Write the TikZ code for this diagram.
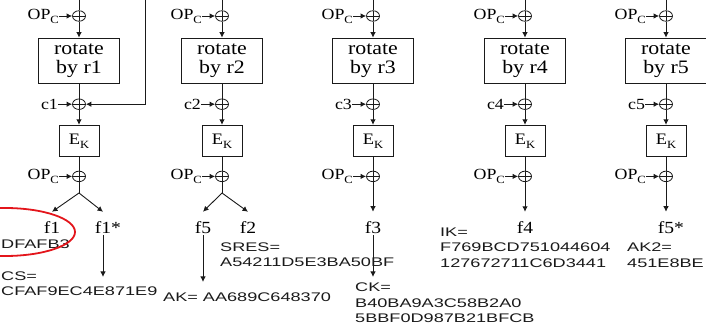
\documentclass[tikz,border=0pt]{standalone}
\usepackage{fontspec}
\usepackage{tikz}
\usetikzlibrary{arrows.meta,positioning,shapes.geometric}
\setmainfont{Liberation Serif}[FakeStretch=1.15]
\newfontfamily\hexfont{Liberation Sans}[FakeStretch=1.45]
\definecolor{markRed}{HTML}{E3151B}
\definecolor{inkGray}{HTML}{1A1A1A}
\newcommand{\lowsub}[1]{\raisebox{-0.55ex}{\fontsize{11}{11}\selectfont #1}}
\tikzset{
  xorop/.style={ellipse,draw=inkGray,line width=0.8pt,minimum width=13pt,minimum height=10.5pt,inner sep=0pt,
    path picture={\draw[inkGray,line width=0.8pt] (path picture bounding box.north) -- (path picture bounding box.south)
      (path picture bounding box.west) -- (path picture bounding box.east);}},
  rotblock/.style={rectangle,draw=inkGray,line width=0.9pt,minimum width=81pt,minimum height=45pt,inner sep=1pt,
    align=center,font={\fontsize{19}{19}\selectfont}},
  ekblock/.style={rectangle,draw=inkGray,line width=0.9pt,minimum width=40pt,minimum height=31pt,inner sep=1pt,
    font={\fontsize{16}{16}\selectfont}},
  oplabel/.style={inner sep=0pt,font={\fontsize{15.5}{15.5}\selectfont}},
  flabel/.style={inner sep=1pt,font={\fontsize{17}{17}\selectfont}},
  hexval/.style={inner sep=0pt,anchor=west,align=left,text=inkGray,
    font={\hexfont\fontsize{12.5}{15.5}\selectfont}},
  arrow/.style={-{Latex[length=5.5pt,width=5.5pt]},line width=0.9pt,draw=inkGray},
  plain/.style={line width=0.9pt,draw=inkGray}
}
\begin{document}
\begin{tikzpicture}[x=1pt,y=-1pt,node distance=15pt]
  \useasboundingbox (0,0) rectangle (706,328);
  \clip (0,0) rectangle (706,328);
  \coordinate (top) at (0,-3);
  % column 1
  \node[xorop] (o1) at (79,16) {};
  \node[rotblock, below=16pt of o1] (r1) {rotate\\by r1};
  \node[xorop, below=of r1] (x1) {};
  \node[ekblock, below=of x1] (e1) {E\lowsub{K}};
  \node[xorop, below=14pt of e1] (p1) {};
  \node[oplabel, left=13pt of o1] (a1) {OP\lowsub{C}};
  \node[oplabel, left=14pt of x1] (c1) {c1};
  \node[oplabel, left=13pt of p1] (b1) {OP\lowsub{C}};
  \coordinate (k1) at (79,193);
  \coordinate (fb) at (145,-3);
  \node[flabel] (out1a) at (52,228) {f1};
  \node[flabel] (out1b) at (103,228) {f1\rlap{*}};
  % column 2
  \node[xorop] (o2) at (222,16) {};
  \node[rotblock, below=16pt of o2] (r2) {rotate\\by r2};
  \node[xorop, below=of r2] (x2) {};
  \node[ekblock, below=of x2] (e2) {E\lowsub{K}};
  \node[xorop, below=14pt of e2] (p2) {};
  \node[oplabel, left=13pt of o2] (a2) {OP\lowsub{C}};
  \node[oplabel, left=14pt of x2] (c2) {c2};
  \node[oplabel, left=13pt of p2] (b2) {OP\lowsub{C}};
  \coordinate (k2) at (222,193);
  \node[flabel] (out2a) at (203,228) {f5};
  \node[flabel] (out2b) at (248,228) {f2};
  % column 3
  \node[xorop] (o3) at (373,16) {};
  \node[rotblock, below=16pt of o3] (r3) {rotate\\by r3};
  \node[xorop, below=of r3] (x3) {};
  \node[ekblock, below=of x3] (e3) {E\lowsub{K}};
  \node[xorop, below=14pt of e3] (p3) {};
  \node[oplabel, left=13pt of o3] (a3) {OP\lowsub{C}};
  \node[oplabel, left=14pt of x3] (c3) {c3};
  \node[oplabel, left=13pt of p3] (b3) {OP\lowsub{C}};
  \node[flabel] (out3) at (373,228) {f3};
  % column 4
  \node[xorop] (o4) at (525,16) {};
  \node[rotblock, below=16pt of o4] (r4) {rotate\\by r4};
  \node[xorop, below=of r4] (x4) {};
  \node[ekblock, below=of x4] (e4) {E\lowsub{K}};
  \node[xorop, below=14pt of e4] (p4) {};
  \node[oplabel, left=13pt of o4] (a4) {OP\lowsub{C}};
  \node[oplabel, left=14pt of x4] (c4) {c4};
  \node[oplabel, left=13pt of p4] (b4) {OP\lowsub{C}};
  \node[flabel] (out4) at (525,228) {f4};
  % column 5
  \node[xorop] (o5) at (666,16) {};
  \node[rotblock, below=16pt of o5] (r5) {rotate\\by r5};
  \node[xorop, below=of r5] (x5) {};
  \node[ekblock, below=of x5] (e5) {E\lowsub{K}};
  \node[xorop, below=14pt of e5] (p5) {};
  \node[oplabel, left=13pt of o5] (a5) {OP\lowsub{C}};
  \node[oplabel, left=14pt of x5] (c5) {c5};
  \node[oplabel, left=13pt of p5] (b5) {OP\lowsub{C}};
  \node[flabel] (out5) at (666,228) {f5\rlap{*}};
  % output values
  \node[hexval] (xres) at (1,244) {DFAFB3};
  \node[hexval] (cs) at (1,283.5) {CS=\\CFAF9EC4E871E9};
  \node[hexval] (sres) at (220,254.5) {SRES=\\A54211D5E3BA50BF};
  \node[hexval] (ak) at (163,297) {AK= AA689C648370};
  \node[hexval] (ck) at (355,303) {CK=\\B40BA9A3C58B2A0\\5BBF0D987B21BFCB};
  \node[hexval] (ik) at (440,247.5) {IK=\\F769BCD751044604\\127672711C6D3441};
  \node[hexval] (aktwo) at (627,255) {AK2=\\451E8BE};
  \node[ellipse,draw=markRed,line width=1.8pt,minimum width=140pt,minimum height=48pt] (mark) at (5,232) {};
  \coordinate (t1) at (103,277);
  \coordinate (t2) at (203,282);
  \coordinate (t3) at (373,277);
  % connectors
  \foreach \i in {1,...,5} {
    \draw[plain] (o\i) -- (o\i |- top);
    \draw[arrow] (a\i.east |- o\i) -- (o\i);
    \draw[arrow] (o\i) -- (r\i);
    \draw[plain] (r\i) -- (x\i);
    \draw[arrow] (c\i.east |- x\i) -- (x\i);
    \draw[arrow] (x\i) -- (e\i);
    \draw[plain] (e\i) -- (p\i);
    \draw[arrow] (b\i.east |- p\i) -- (p\i);
  }
  \draw[arrow] (fb) |- (x1);
  \draw[plain] (p1) -- (k1);
  \draw[arrow] (k1) -- ([yshift=9pt]out1a.north);
  \draw[arrow] (k1) -- ([yshift=9pt]out1b.north);
  \draw[plain] (p2) -- (k2);
  \draw[arrow] (k2) -- ([yshift=9pt]out2a.north);
  \draw[arrow] (k2) -- ([yshift=9pt]out2b.north);
  \draw[arrow] (p3) -- ([yshift=9pt]out3.north);
  \draw[arrow] (p4) -- ([yshift=9pt]out4.north);
  \draw[arrow] (p5) -- ([yshift=9pt]out5.north);
  \draw[arrow] (out1b) -- (t1);
  \draw[arrow] (out2a) -- (t2);
  \draw[arrow] (out3) -- (t3);
\end{tikzpicture}
\end{document}
